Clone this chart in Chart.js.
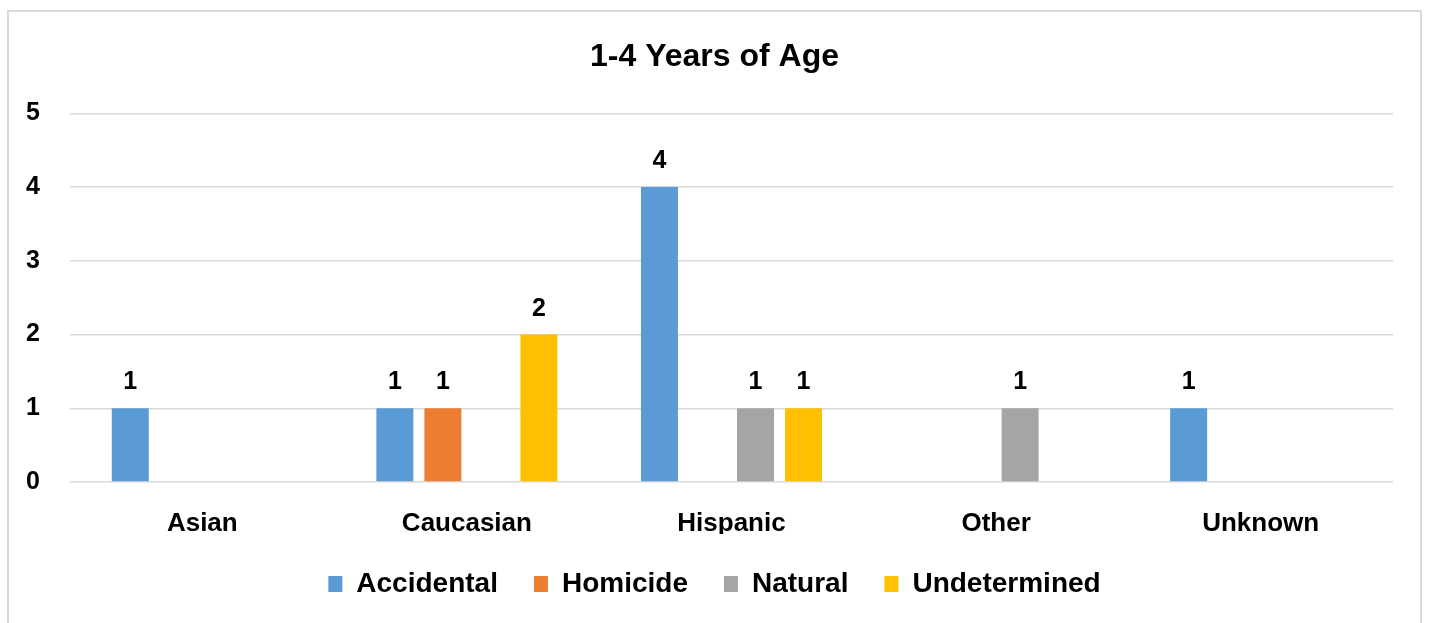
<!DOCTYPE html>
<html>
<head>
<meta charset="utf-8">
<script src="https://cdn.jsdelivr.net/npm/chart.js@4.4.1/dist/chart.umd.min.js"></script>
<style>
  html, body { margin: 0; padding: 0; background: #fff; width: 1429px; height: 623px; overflow: hidden; }
  #frame { position: absolute; left: 7px; top: 10px; width: 1415px; height: 640px; border: 2px solid #d9d9d9; box-sizing: border-box; }
  #c { position: absolute; left: 0; top: 0; }
</style>
</head>
<body>
<div id="frame"></div>
<canvas id="c" width="1429" height="623"></canvas>
<script>
const categories = ["Asian", "Caucasian", "Hispanic", "Other", "Unknown"];
const accidental = [1, 1, 4, 0, 1];
const homicide = [0, 1, 0, 0, 0];
const natural = [0, 0, 1, 1, 0];
const undetermined = [0, 2, 1, 0, 0];
const yTicks = [0, 1, 2, 3, 4, 5];
const chartTitle = "1-4 Years of Age";

const FONT = "'Liberation Sans', Arial, sans-serif";

const valueLabels = {
  id: 'valueLabels',
  afterDatasetsDraw(chart) {
    const ctx = chart.ctx;
    ctx.save();
    ctx.font = "bold 25px " + FONT;
    ctx.fillStyle = "#000";
    ctx.textAlign = "center";
    ctx.textBaseline = "alphabetic";
    chart.data.datasets.forEach((ds, i) => {
      const meta = chart.getDatasetMeta(i);
      meta.data.forEach((bar, j) => {
        const v = ds.data[j];
        if (v > 0) ctx.fillText(String(v), bar.x, bar.y - 19);
      });
    });
    ctx.restore();
  }
};

new Chart(document.getElementById('c'), {
  type: 'bar',
  data: {
    labels: categories,
    datasets: [
      { label: "Accidental", data: accidental, backgroundColor: "#5B9BD5" },
      { label: "Homicide", data: homicide, backgroundColor: "#ED7D31" },
      { label: "Natural", data: natural, backgroundColor: "#A5A5A5" },
      { label: "Undetermined", data: undetermined, backgroundColor: "#FFC000" }
    ]
  },
  options: {
    responsive: false,
    animation: false,
    devicePixelRatio: 1,
    categoryPercentage: 0.726,
    barPercentage: 0.77,
    layout: { padding: { left: 0, right: 0, top: 0, bottom: 15 } },
    plugins: {
      title: {
        display: true,
        text: chartTitle,
        color: "#000",
        font: { family: FONT, size: 32, weight: 'bold', lineHeight: 1.2 },
        padding: { top: 38, bottom: 37 }
      },
      legend: {
        position: 'bottom',
        labels: {
          color: "#000",
          font: { family: FONT, size: 28, weight: 'bold' },
          boxWidth: 14,
          boxHeight: 16,
          padding: 36
        }
      },
      tooltip: { enabled: false }
    },
    scales: {
      x: {
        grid: { display: false },
        border: { display: false },
        ticks: { color: "#000", font: { family: FONT, size: 26, weight: 'bold' }, padding: 18 },
        afterFit(s) { s.height = 52; }
      },
      y: {
        min: 0, max: 5,
        afterBuildTicks(s) { s.ticks = yTicks.map(v => ({ value: v })); },
        grid: { color: "#d9d9d9", lineWidth: 1.5, drawTicks: false },
        border: { display: false },
        ticks: { color: "#000", font: { family: FONT, size: 25, weight: 'bold' }, padding: 30 },
        afterFit(s) { s.width = 70; }
      },
      yRight: {
        type: 'linear',
        position: 'right',
        display: true,
        grid: { display: false, drawTicks: false },
        border: { display: false },
        ticks: { display: false },
        afterFit(s) { s.width = 36; }
      }
    }
  },
  plugins: [valueLabels]
});
</script>
</body>
</html>
